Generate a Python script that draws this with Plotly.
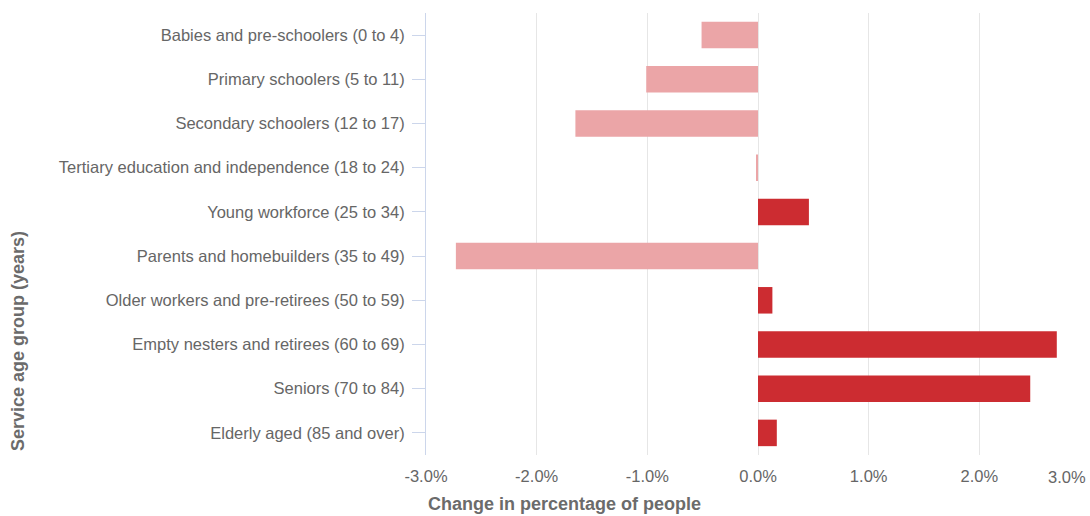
import plotly.graph_objects as go

categories = [
    "Babies and pre-schoolers (0 to 4)",
    "Primary schoolers (5 to 11)",
    "Secondary schoolers (12 to 17)",
    "Tertiary education and independence (18 to 24)",
    "Young workforce (25 to 34)",
    "Parents and homebuilders (35 to 49)",
    "Older workers and pre-retirees (50 to 59)",
    "Empty nesters and retirees (60 to 69)",
    "Seniors (70 to 84)",
    "Elderly aged (85 and over)",
]
change_pct = [-0.51, -1.01, -1.65, -0.01, 0.46, -2.73, 0.13, 2.70, 2.46, 0.17]

tick_vals = [-3, -2, -1, 0, 1, 2, 3]
tick_labels = ["-3.0%", "-2.0%", "-1.0%", "0.0%", "1.0%", "2.0%", "3.0%"]

NEG = "#eba5a7"
POS = "#cc2c31"
colors = [NEG if v < 0 else POS for v in change_pct]

PLOT_H = 516 - 13 - 61

# last tick label sits at the page edge, so it is right-aligned via an annotation
axis_ticktext = tick_labels[:-1] + [""]

fig = go.Figure(
    go.Bar(
        x=change_pct,
        y=categories,
        orientation="h",
        marker=dict(color=colors, line=dict(width=0)),
        hovertemplate="%{y}: %{x:.2f}%<extra></extra>",
    )
)

fig.update_layout(
    width=1090,
    height=516,
    margin=dict(l=426, r=0, t=13, b=61),
    plot_bgcolor="white",
    paper_bgcolor="white",
    bargap=0.4,
    showlegend=False,
    font=dict(family="Liberation Sans, Arial, sans-serif", size=16.5, color="#666666"),
    xaxis=dict(
        range=[-3, 3],
        tickvals=tick_vals,
        ticktext=axis_ticktext,
        showgrid=True,
        gridcolor="#e6e6e6",
        gridwidth=1,
        zeroline=False,
        showline=False,
        ticks="",
        automargin=False,
        ticklabelstandoff=9,
        tickfont=dict(size=16.5, color="#666666"),
    ),
    yaxis=dict(
        autorange="reversed",
        showgrid=False,
        zeroline=False,
        showline=True,
        linecolor="#ccd6eb",
        linewidth=1,
        ticks="outside",
        ticklen=13,
        tickcolor="#ccd6eb",
        automargin=False,
        ticklabelstandoff=4,
        tickfont=dict(size=16.5, color="#666666"),
    ),
    annotations=[
        dict(
            text=tick_labels[-1],
            xref="x", yref="paper",
            x=tick_vals[-1], y=0,
            xanchor="right", yanchor="middle",
            xshift=-2, yshift=-22,
            showarrow=False,
            font=dict(size=16.5, color="#666666"),
        ),
        dict(
            text="<b>Change in percentage of people</b>",
            xref="paper", yref="paper",
            x=0, y=-(504 - 455) / PLOT_H,
            xanchor="left", yanchor="middle",
            showarrow=False,
            font=dict(size=18, color="#6b6b6b"),
        ),
        dict(
            text="<b>Service age group (years)</b>",
            xref="paper", yref="paper",
            x=0, y=(455 - 341) / PLOT_H,
            xanchor="center", yanchor="middle",
            xshift=-408,
            textangle=-90,
            showarrow=False,
            font=dict(size=18, color="#6b6b6b"),
        ),
    ],
)

fig.write_html(
    "out.html",
    config={"displayModeBar": False},
    post_script="document.body.style.margin='0';document.body.style.overflow='hidden';",
)
